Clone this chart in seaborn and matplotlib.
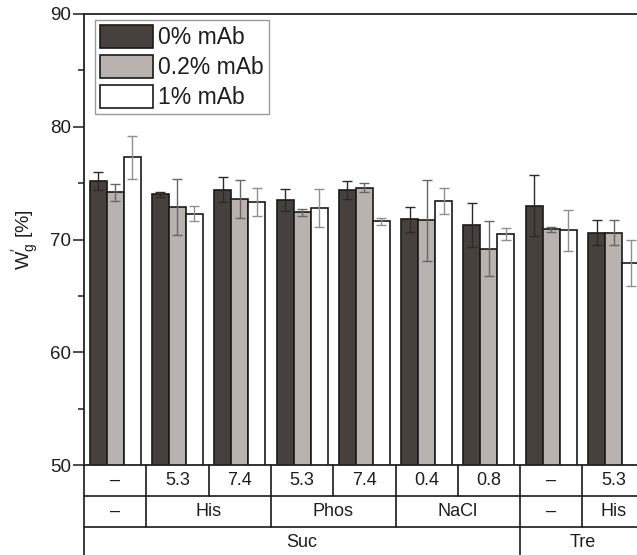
import numpy as np
import pandas as pd
import matplotlib
matplotlib.use("Agg")
import matplotlib.pyplot as plt
import seaborn as sns
from matplotlib.patches import Patch

# ---- data ----
groups = ["g0", "g1", "g2", "g3", "g4", "g5", "g6", "g7", "g8"]
series = ["0% mAb", "0.2% mAb", "1% mAb"]
vals_0 = [75.2, 74.0, 74.4, 73.5, 74.4, 71.8, 71.3, 73.0, 70.6]
vals_02 = [74.2, 72.9, 73.6, 72.4, 74.6, 71.7, 69.2, 70.9, 70.6]
vals_1 = [77.3, 72.3, 73.3, 72.8, 71.6, 73.4, 70.5, 70.8, 67.9]
err_0 = [0.8, 0.25, 1.1, 1.0, 0.8, 1.1, 1.95, 2.7, 1.1]
err_02 = [0.75, 2.5, 1.7, 0.3, 0.4, 3.6, 2.4, 0.25, 1.1]
err_1 = [1.9, 0.7, 1.25, 1.7, 0.35, 1.15, 0.5, 1.85, 2.05]

row1_labels = ["–", "5.3", "7.4", "5.3", "7.4", "0.4", "0.8", "–", "5.3"]
row2_labels = ["–", "His", "Phos", "NaCl", "–", "His"]
row2_spans = [(0, 0), (1, 2), (3, 4), (5, 6), (7, 7), (8, 8)]
row3_labels = ["Suc", "Tre"]
row3_spans = [(0, 6), (7, 8)]
row3_centers = [3.0, 7.5]

yticks = [50, 60, 70, 80, 90]

# ---- styling ----
sns.set_theme(style="ticks")
plt.rcParams["font.family"] = ["Liberation Sans", "DejaVu Sans"]
plt.rcParams["mathtext.fontset"] = "custom"
plt.rcParams["mathtext.rm"] = "Liberation Sans"
plt.rcParams["mathtext.it"] = "Liberation Sans"

bar_colors = ["#47413e", "#b9b3b0", "#ffffff"]
err_colors = ["#2a2a2a", "#666666", "#8f8f8f"]
txt_color = "#1e1e1e"

df = pd.DataFrame({
    "group": groups * 3,
    "series": [series[0]] * 9 + [series[1]] * 9 + [series[2]] * 9,
    "value": vals_0 + vals_02 + vals_1,
})
errs = [err_0, err_02, err_1]

fig = plt.figure(figsize=(6.37, 5.55), dpi=100)
ax = fig.add_axes([84 / 637, 1 - 465 / 555, (637 - 84) / 637, 451 / 555])

sns.barplot(data=df, x="group", y="value", hue="series", order=groups,
            hue_order=series, palette=bar_colors, edgecolor="#1a1a1a",
            linewidth=1.2, width=0.82, errorbar=None, ax=ax, legend=False,
            saturation=1)

bar_containers = list(ax.containers)
for ci, cont in enumerate(bar_containers):
    xs = [b.get_x() + b.get_width() / 2 for b in cont.patches]
    ys = [b.get_height() for b in cont.patches]
    ax.errorbar(xs, ys, yerr=errs[ci], fmt="none", ecolor=err_colors[ci],
                elinewidth=1.0, capsize=3.6, capthick=1.0, zorder=5)

ax.set_ylim(50, 90)
ax.set_xlim(-0.5, -0.5 + 553 / 62.3)
ax.set_yticks(yticks)
ax.set_yticks([55, 65, 75, 85], minor=True)
ax.set_xticks([])
ax.set_xlabel("")
ax.tick_params(axis="y", which="major", length=8, width=1.1, labelsize=13.5,
               pad=1.5, colors=txt_color)
ax.tick_params(axis="y", which="minor", length=4.5, width=1.1, colors=txt_color)
for s in ["left", "top", "bottom"]:
    ax.spines[s].set_linewidth(1.3)
    ax.spines[s].set_color("#222222")
ax.spines["right"].set_visible(False)

ax.set_ylabel(r"$\mathregular{W_g'}$ [%]", fontsize=14, color=txt_color)
ax.yaxis.set_label_coords(-0.078, 0.5)

# legend
handles = [Patch(facecolor=c, edgecolor="#1a1a1a", linewidth=1.2) for c in bar_colors]
leg = ax.legend(handles, series, loc="upper left",
                bbox_to_anchor=(11 / 553, (465 - 20) / 451), borderaxespad=0,
                fontsize=16.5, handlelength=2.3, handleheight=1.15,
                labelspacing=0.26, borderpad=0.22, handletextpad=0.25,
                fancybox=False, framealpha=1, edgecolor="#999999")
leg.get_frame().set_linewidth(1.0)
for t in leg.get_texts():
    t.set_color(txt_color)

# category table below axes
trans = ax.get_xaxis_transform()
rh = 31 / 451
lw = 1.2
lc = "#1a1a1a"
fs = 13
r0, r1, r2, r3 = 0, -rh, -2 * rh, -3 * rh
xmax = 9.5
for yy in [r1, r2]:
    ax.plot([-0.5, xmax], [yy, yy], transform=trans, clip_on=False, color=lc, lw=lw)
ax.plot([-0.5, -0.5], [0, r3], transform=trans, clip_on=False, color=lc, lw=lw)
# row 1
for i, lab in enumerate(row1_labels):
    ax.plot([i + 0.5, i + 0.5], [r0, r1], transform=trans, clip_on=False, color=lc, lw=lw)
    ax.text(i, (r0 + r1) / 2, lab, transform=trans, ha="center", va="center",
            fontsize=fs, color=txt_color, clip_on=False)
# row 2
for lab, (a, b) in zip(row2_labels, row2_spans):
    ax.plot([b + 0.5, b + 0.5], [r1, r2], transform=trans, clip_on=False, color=lc, lw=lw)
    ax.text((a + b) / 2, (r1 + r2) / 2, lab, transform=trans, ha="center", va="center",
            fontsize=fs, color=txt_color, clip_on=False)
# row 3
for lab, (a, b), c in zip(row3_labels, row3_spans, row3_centers):
    ax.plot([b + 0.5, b + 0.5], [r2, r3], transform=trans, clip_on=False, color=lc, lw=lw)
    ax.text(c, (r2 + r3) / 2 + 0.0, lab, transform=trans, ha="center", va="center",
            fontsize=fs, color=txt_color, clip_on=False)

fig.savefig("out.png", dpi=100)
